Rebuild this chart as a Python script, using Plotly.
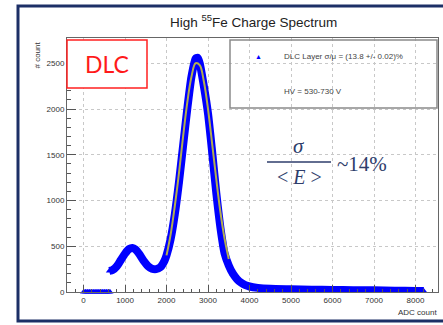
import plotly.graph_objects as go

# ---- data ----
zero_adc = [0, 50, 100, 150, 200, 250, 300, 350, 400, 450, 500, 550, 600, 640]
zero_cnt = [0, 0, 0, 0, 0, 0, 0, 0, 0, 0, 0, 0, 0, 0]

spec_adc = [620, 700, 800, 900, 1000, 1100, 1180, 1250, 1350, 1450, 1550, 1650, 1750,
            1850, 1950, 2000, 2100, 2200, 2300, 2400, 2500, 2600, 2700, 2750, 2800,
            2900, 3000, 3100, 3200, 3300, 3400, 3500, 3600, 3700, 3800, 3900, 4000,
            4200, 4500, 5000, 5500, 6000, 6500, 7000, 7500, 8000, 8200]
spec_cnt = [230, 240, 280, 350, 420, 470, 480, 465, 410, 340, 285, 255, 250,
            270, 340, 400, 580, 850, 1200, 1600, 2000, 2350, 2550, 2560, 2500,
            2250, 1950, 1530, 1080, 700, 420, 290, 200, 140, 100, 75, 60,
            45, 35, 30, 25, 22, 20, 18, 15, 12, 10]

fit_adc = [2000, 2100, 2200, 2300, 2400, 2500, 2600, 2700, 2800, 2900, 3000,
           3100, 3200, 3300, 3400, 3500]
fit_cnt = [400, 630, 940, 1300, 1700, 2070, 2350, 2500, 2480, 2300, 2000,
           1620, 1230, 870, 580, 360]

x_ticks = [0, 1000, 2000, 3000, 4000, 5000, 6000, 7000, 8000]
y_ticks = [0, 500, 1000, 1500, 2000, 2500]

title_text = "High <sup>55</sup>Fe Charge Spectrum"
legend_text = "DLC Layer σ/μ = (13.8 +/- 0.02)%"
hv_text = "HV = 530-730 V"

W, H = 443, 325
L, R, T, B = 67, 5, 38, 33

BLUE = "#0000ff"
NAVY = "#2e3d6b"

fig = go.Figure()

for xs, ys, lw in [(zero_adc, zero_cnt, 5), (spec_adc, spec_cnt, 8)]:
    fig.add_trace(go.Scatter(
        x=xs, y=ys, mode="lines+markers",
        line=dict(color=BLUE, width=lw, shape="spline", smoothing=0.6),
        marker=dict(symbol="triangle-up", size=6, color=BLUE),
        cliponaxis=False, showlegend=False, hoverinfo="skip"))

fig.add_trace(go.Scatter(
    x=fit_adc, y=fit_cnt, mode="lines",
    line=dict(color="#b3ae4e", width=2, shape="spline"),
    showlegend=False, hoverinfo="skip"))

tickfont = dict(family="Liberation Sans, Arial", size=8, color="#333333")

fig.update_xaxes(
    range=[-398, 8542], tickvals=x_ticks, ticks="inside", ticklen=7,
    tickcolor="#555555", tickfont=tickfont,
    minor=dict(dtick=200, ticks="inside", ticklen=3, tickcolor="#555555",
               showgrid=False),
    showgrid=True, gridcolor="#c8c8c8", griddash="dot", gridwidth=1,
    showline=True, linecolor="#666666", linewidth=1, mirror=True,
    zeroline=False)
fig.update_yaxes(
    range=[0, 2776], tickvals=y_ticks, ticks="inside", ticklen=9,
    tickcolor="#555555", tickfont=tickfont,
    minor=dict(dtick=100, ticks="inside", ticklen=4, tickcolor="#555555",
               showgrid=False),
    showgrid=True, gridcolor="#c8c8c8", griddash="dot", gridwidth=1,
    showline=True, linecolor="#666666", linewidth=1, mirror=True,
    zeroline=False)


def px(xp):
    return (xp - L) / (W - L - R)


def py(yp):
    return (H - B - yp) / (H - T - B)


shapes = [
    # outer slide frame
    dict(type="rect", xref="paper", yref="paper", x0=px(18), x1=px(460),
         y0=py(321), y1=py(6), line=dict(color="#1c2f66", width=3), layer="below"),
    # DLC red box
    dict(type="rect", xref="paper", yref="paper", x0=px(67), x1=px(147),
         y0=py(88), y1=py(40), line=dict(color="#ff2020", width=1.5),
         fillcolor="white"),
    # legend box
    dict(type="rect", xref="paper", yref="paper", x0=px(230), x1=px(437),
         y0=py(108), y1=py(40), line=dict(color="#8a8a8a", width=1.5)),
    # fraction bar
    dict(type="line", xref="paper", yref="paper", x0=px(267), x1=px(331),
         y0=py(162), y1=py(162), line=dict(color=NAVY, width=1.5)),
]

ann = []


def add(text, xp, yp, size, color, xanchor="center", family="Liberation Sans, Arial",
        yanchor="middle", angle=0):
    ann.append(dict(text=text, x=px(xp), y=py(yp), xref="paper", yref="paper",
                    showarrow=False, xanchor=xanchor, yanchor=yanchor,
                    textangle=angle,
                    font=dict(family=family, size=size, color=color)))


add(title_text, 253, 21, 13.5, "#222222")
add("DLC", 107, 64, 23, "#ff1a1a", family="Lato, Open Sans")
add("▲", 258, 56, 7, BLUE)
add(legend_text, 282, 57, 8, "#444444", xanchor="left")
add(hv_text, 282, 92, 8, "#444444", xanchor="left")
add("<i>σ</i>", 299, 146, 21, NAVY, family="Liberation Serif, DejaVu Serif")
add("&lt; <i>E</i> &gt;", 299, 177, 20, NAVY, family="Liberation Serif, DejaVu Serif")
add("~14%", 335, 164, 21, NAVY, xanchor="left", family="Liberation Serif, DejaVu Serif")
add("ADC count", 439, 312, 8, "#333333", xanchor="right")
add("# count", 37, 40, 8, "#333333", yanchor="top", angle=-90)

fig.update_layout(
    width=W, height=H, margin=dict(l=L, r=R, t=T, b=B),
    paper_bgcolor="white", plot_bgcolor="white",
    shapes=shapes, annotations=ann, showlegend=False)

fig.write_html("out.html", config={"displayModeBar": False},
               post_script="document.body.style.margin='0';"
                           "document.body.style.overflow='hidden';")
